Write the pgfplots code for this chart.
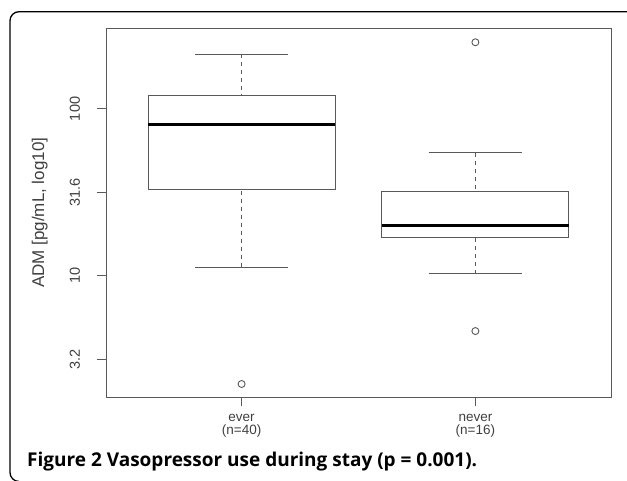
\documentclass[border=0pt]{standalone}
\usepackage{fontspec}
\setmainfont{Liberation Sans}
\newfontfamily\capfont{Open Sans}
\usepackage{pgfplots}
\pgfplotsset{compat=1.18}
\usepgfplotslibrary{statistics}

\definecolor{rtext}{gray}{0.25}
\definecolor{rline}{gray}{0.35}

\begin{document}
\begin{tikzpicture}
\useasboundingbox (0pt,0pt) rectangle (627pt,480pt);
% rounded frame round the figure
\draw[line width=1.3pt, rounded corners=9pt]
  (19pt,-1.5pt) -- (10pt,-1.5pt) -- (10pt,468.3pt) -- (660pt,468.3pt);

% values are log10(ADM [pg/mL])
\begin{axis}[
  at={(106pt,82.7pt)}, anchor=south west,
  scale only axis,
  width=505pt, height=369pt,
  ymin=0.2725, ymax=2.483,
  xmin=0.42, xmax=2.58,
  axis line style={rline, line width=0.9pt},
  tick style={rline, line width=0.9pt},
  tick align=outside,
  major tick length=9pt,
  tick pos=left,
  xtick={1,2},
  xticklabels={{ever\\(n=40)},{never\\(n=16)}},
  xticklabel style={anchor=north, inner sep=0pt, align=center, text=rtext,
    font=\fontsize{13.5}{13}\selectfont, yshift=-8pt},
  ytick={0.5,1,1.5,2},
  yticklabels={3.2,10,31.6,100},
  yticklabel style={rotate=90, anchor=base, inner sep=0pt, text=rtext,
    font=\fontsize{14.5}{16}\selectfont, yshift=17pt},
  ylabel={ADM [pg/mL, log10]},
  every axis y label/.style={at={(axis description cs:0,0.5)}, rotate=90,
    anchor=base, inner sep=0pt, yshift=62pt, text=rtext,
    font=\fontsize{17}{19}\selectfont},
  boxplot/draw direction=y,
  boxplot/box extend=0.8,
  boxplot/whisker extend=0.4,
  boxplot/every median/.style={black, line width=2.7pt},
  boxplot/draw/lower whisker/.code={
    \draw[dash pattern=on 4pt off 4pt]
      (boxplot box cs:\pgfplotsboxplotvalue{lower whisker},0.5) --
      (boxplot box cs:\pgfplotsboxplotvalue{lower quartile},0.5);
    \draw (boxplot whisker cs:\pgfplotsboxplotvalue{lower whisker},0) --
      (boxplot whisker cs:\pgfplotsboxplotvalue{lower whisker},1);
  },
  boxplot/draw/upper whisker/.code={
    \draw[dash pattern=on 4pt off 4pt]
      (boxplot box cs:\pgfplotsboxplotvalue{upper whisker},0.5) --
      (boxplot box cs:\pgfplotsboxplotvalue{upper quartile},0.5);
    \draw (boxplot whisker cs:\pgfplotsboxplotvalue{upper whisker},0) --
      (boxplot whisker cs:\pgfplotsboxplotvalue{upper whisker},1);
  },
]
% ever (n=40)
\addplot[rline, line width=0.9pt, mark=o, mark size=3.5pt,
  boxplot prepared={draw position=1,
    lower whisker=1.0531, lower quartile=1.5172, median=1.9085,
    upper quartile=2.0821, upper whisker=2.3276}]
  coordinates {(1,0.3522)};
% never (n=16)
\addplot[rline, line width=0.9pt, mark=o, mark size=3.5pt,
  boxplot prepared={draw position=2,
    lower whisker=1.0128, lower quartile=1.2330, median=1.3010,
    upper quartile=1.5038, upper whisker=1.7380}]
  coordinates {(2,2.3994) (2,0.6693)};
\end{axis}

\node[anchor=base west, inner sep=0pt] at (27pt,13.5pt)
  {\capfont\fontsize{19}{22}\selectfont\bfseries Figure 2 Vasopressor use during stay (p = 0.001).};
\end{tikzpicture}
\end{document}
